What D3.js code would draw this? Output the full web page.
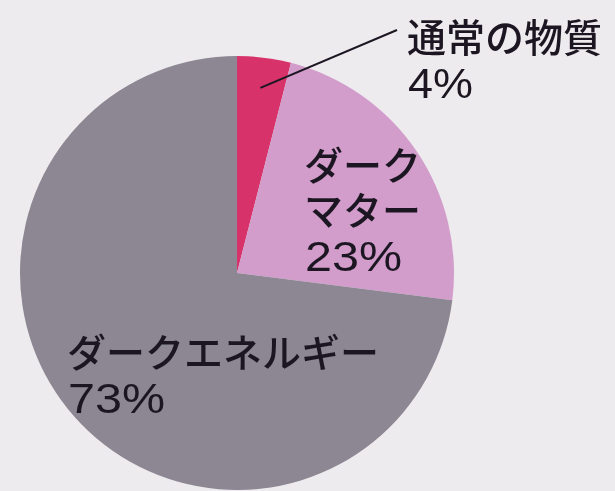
<!DOCTYPE html>
<html>
<head>
<meta charset="utf-8">
<script src="https://cdn.jsdelivr.net/npm/d3@7"></script>
<style>
  html, body { margin: 0; padding: 0; background: #edebee; }
  svg { display: block; }
  text { fill: #1c1822; }
  .name { font-family: "Liberation Sans", "Noto Sans CJK JP", sans-serif; font-weight: 500; }
  .pct { font-family: "Liberation Sans", Arial, sans-serif; }
</style>
</head>
<body>
<svg id="chart" width="615" height="491"></svg>
<script>
// Composition of the universe
const categories = ["通常の物質", "ダークマター", "ダークエネルギー"];
const values = [4, 23, 73];
const colors = ["#d8336b", "#d29ccb", "#8c8793"];
const nameLines = [["通常の物質"], ["ダーク", "マター"], ["ダークエネルギー"]];

const svg = d3.select("#chart");
const cx = 237, cy = 273, radius = 217;

const defs = svg.append("defs");
defs.append("filter").attr("id", "soft")
  .append("feGaussianBlur").attr("stdDeviation", 0.7);

const pie = d3.pie().sort(null).value(d => d)(values);
const arc = d3.arc().innerRadius(0).outerRadius(radius);

const g = svg.append("g").attr("transform", `translate(${cx},${cy})`).attr("filter", "url(#soft)");

g.selectAll("path")
  .data(pie)
  .join("path")
  .attr("d", arc)
  .attr("fill", (d, i) => colors[i]);

// Label block for each slice: name lines, then the percentage
const nameSize = 39;
const pctSize = 42;
const lineGap = 45;
const labelPos = [
  { x: 407, y: 52 },
  { x: 304, y: 180 },
  { x: 67, y: 367 }
];

const labels = svg.append("g").attr("filter", "url(#soft)");
pie.forEach((d, i) => {
  const p = labelPos[i];
  nameLines[i].forEach((ln, j) => {
    labels.append("text")
      .attr("class", "name")
      .attr("x", p.x)
      .attr("y", p.y + j * lineGap)
      .attr("font-size", nameSize)
      .text(ln);
  });
  const pctText = `${d.data}%`;
  labels.append("text")
    .attr("class", "pct")
    .attr("x", p.x + 1)
    .attr("y", p.y + nameLines[i].length * lineGap + 1)
    .attr("font-size", pctSize)
    .attr("textLength", pctText.length * 32 + 1)
    .attr("lengthAdjust", "spacingAndGlyphs")
    .text(pctText);
});

// Leader line from the small slice out to its label
const small = pie[0];
const inner = d3.arc().innerRadius(radius * 0.86).outerRadius(radius * 0.86).centroid(small);
svg.append("line")
  .attr("x1", cx + inner[0])
  .attr("y1", cy + inner[1])
  .attr("x2", 397)
  .attr("y2", 30)
  .attr("stroke", "#1c1822")
  .attr("stroke-width", 2)
  .attr("filter", "url(#soft)");
</script>
</body>
</html>
